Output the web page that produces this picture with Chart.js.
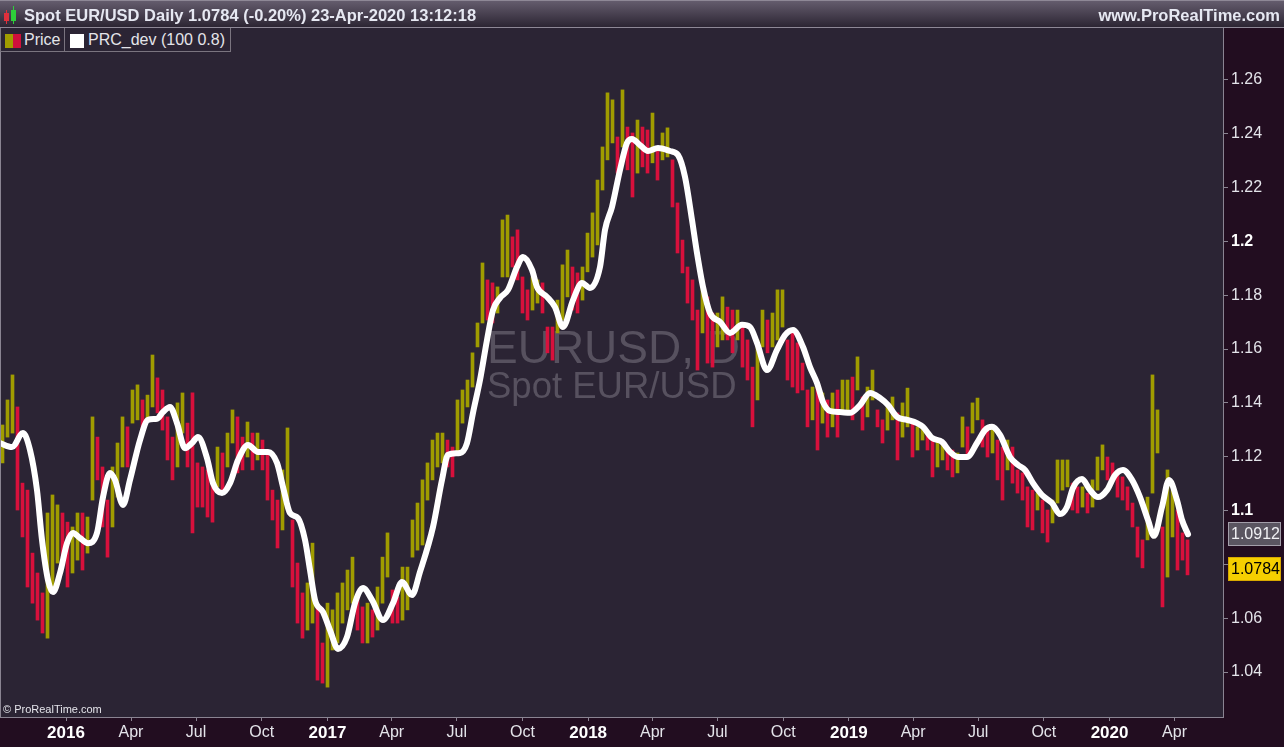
<!DOCTYPE html>
<html>
<head>
<meta charset="utf-8">
<title>Spot EUR/USD Daily</title>
<script src="https://cdn.jsdelivr.net/npm/chart.js@4.4.1/dist/chart.umd.min.js"></script>
<style>
  html, body { margin: 0; padding: 0; background: #220d20; }
  body { width: 1284px; height: 747px; position: relative; overflow: hidden;
         font-family: Arial, "Liberation Sans", sans-serif; }
  #chart { position: absolute; left: 0; top: 0; }
  .topbar { position: absolute; left: 0; top: 0; width: 1284px; height: 26px;
            background: linear-gradient(#645c6d, #2c2533);
            border-top: 1px solid #8e8896; border-bottom: 1px solid #8e8896; }
  .topbar .title { position: absolute; left: 24px; top: 0; line-height: 28px;
                   font-size: 16.5px; font-weight: bold; color: #e6e8f2; }
  .topbar .site { position: absolute; right: 4px; top: 0; line-height: 28px;
                  font-size: 16.5px; font-weight: bold; color: #e6e8f2; }
  .icon { position: absolute; top: 0; }
  .legend { position: absolute; left: 0; top: 28px; height: 23px; width: 229px;
            border: 1px solid #7a747f; border-top: none; background: #2b2434; }
  .legend .sep { position: absolute; left: 63px; top: 0; width: 1px; height: 23px; background: #7a747f; }
  .legend span.txt { position: absolute; top: 0; line-height: 23px; font-size: 16px; color: #e4e4ea; }
  .sw { position: absolute; top: 6px; height: 14px; }
</style>
</head>
<body>
<canvas id="chart" width="1284" height="747"></canvas>

<div class="topbar">
  <div class="icon" style="left:4px;top:12px;width:5px;height:8px;background:#e0303c;"></div>
  <div class="icon" style="left:6px;top:9px;width:1px;height:14px;background:#e0303c;"></div>
  <div class="icon" style="left:11px;top:9px;width:5px;height:11px;background:#2ed03a;"></div>
  <div class="icon" style="left:13px;top:5px;width:1px;height:18px;background:#2ed03a;"></div>
  <div class="title">Spot EUR/USD Daily 1.0784 (-0.20%) 23-Apr-2020 13:12:18</div>
  <div class="site">www.ProRealTime.com</div>
</div>

<div class="legend">
  <div class="sw" style="left:4px;width:8px;background:#a09c00;"></div>
  <div class="sw" style="left:12px;width:8px;background:#d0103c;"></div>
  <span class="txt" style="left:23px;">Price</span>
  <div class="sep"></div>
  <div class="sw" style="left:69px;width:14px;background:#ffffff;"></div>
  <span class="txt" style="left:87px;">PRC_dev (100 0.8)</span>
</div>

<script>
/* EUR/USD daily — weekly high/low ranges + PRC_dev smooth line */

// ---------- data ----------
// x unit: weeks since 1-Jan-2016
const firstBarWeek = -12.7;
const barHigh = [
  1.1318, 1.1411, 1.1504, 1.1385, 1.1102, 1.1076, 1.0842, 1.0768, 1.0694, 1.0991,
  1.1058, 1.1021, 1.0991, 1.0957, 1.0939, 1.0991, 1.0991, 1.0976, 1.1348, 1.1273,
  1.1162, 1.1039, 1.1162, 1.1251, 1.1348, 1.1311, 1.1448, 1.1467, 1.1411, 1.1429,
  1.1578, 1.1493, 1.1448, 1.1348, 1.1273, 1.1400, 1.1437, 1.1325, 1.1437, 1.1177,
  1.1162, 1.1151, 1.1114, 1.1236, 1.1214, 1.1288, 1.1374, 1.1348, 1.1273, 1.1329,
  1.1288, 1.1288, 1.1262, 1.1214, 1.1076, 1.1039, 1.1151, 1.1307, 1.0965, 1.0805,
  1.0694, 1.0731, 1.0879, 1.0642, 1.0508, 1.0656, 1.0631, 1.0694, 1.0731, 1.0779,
  1.0827, 1.0679, 1.0642, 1.0656, 1.0631, 1.0716, 1.0827, 1.0917, 1.0705, 1.0679,
  1.0790, 1.0790, 1.0965, 1.1028, 1.1114, 1.1177, 1.1262, 1.1288, 1.1288, 1.1262,
  1.1236, 1.1411, 1.1448, 1.1485, 1.1586, 1.1697, 1.1920, 1.1857, 1.1846, 1.1831,
  1.2080, 1.2098, 1.2017, 1.2043, 1.1868, 1.1820, 1.1868, 1.1857, 1.1846, 1.1682,
  1.1682, 1.1782, 1.1913, 1.1968, 1.1905, 1.1883, 1.1905, 1.2031, 1.2106, 1.2228,
  1.2351, 1.2552, 1.2526, 1.2388, 1.2563, 1.2425, 1.2403, 1.2451, 1.2425, 1.2414,
  1.2477, 1.2351, 1.2403, 1.2422, 1.2303, 1.2143, 1.2005, 1.1905, 1.1857, 1.1745,
  1.1857, 1.1794, 1.1734, 1.1734, 1.1794, 1.1756, 1.1745, 1.1745, 1.1682, 1.1634,
  1.1533, 1.1634, 1.1745, 1.1708, 1.1734, 1.1820, 1.1820, 1.1634, 1.1660, 1.1623,
  1.1548, 1.1448, 1.1459, 1.1474, 1.1437, 1.1411, 1.1437, 1.1448, 1.1485, 1.1485,
  1.1496, 1.1571, 1.1422, 1.1459, 1.1522, 1.1374, 1.1337, 1.1400, 1.1422, 1.1363,
  1.1400, 1.1455, 1.1337, 1.1311, 1.1311, 1.1288, 1.1273, 1.1262, 1.1251, 1.1225,
  1.1225, 1.1214, 1.1348, 1.1311, 1.1400, 1.1418, 1.1337, 1.1299, 1.1311, 1.1262,
  1.1236, 1.1262, 1.1236, 1.1151, 1.1140, 1.1088, 1.1076, 1.1065, 1.1039, 1.1002,
  1.1039, 1.1188, 1.1188, 1.1188, 1.1102, 1.1088, 1.1088, 1.1065, 1.1114, 1.1199,
  1.1244, 1.1199, 1.1177, 1.1140, 1.1125, 1.1088, 1.1028, 1.0939, 1.0891, 1.1050,
  1.1504, 1.1374, 1.0939, 1.1151, 1.1076, 1.1002, 1.0917, 1.0891
];
const barLow = [
  1.1177, 1.1273, 1.1288, 1.1002, 1.0902, 1.0716, 1.0656, 1.0593, 1.0545, 1.0526,
  1.0716, 1.0805, 1.0827, 1.0716, 1.0768, 1.0816, 1.0779, 1.0842, 1.1039, 1.1114,
  1.0939, 1.0827, 1.0939, 1.1050, 1.1162, 1.1162, 1.1325, 1.1337, 1.1288, 1.1337,
  1.1385, 1.1363, 1.1299, 1.1188, 1.1114, 1.1162, 1.1288, 1.1162, 1.0917, 1.1013,
  1.1013, 1.0976, 1.0957, 1.1088, 1.1076, 1.1162, 1.1251, 1.1140, 1.1151, 1.1199,
  1.1151, 1.1188, 1.1151, 1.1039, 1.0965, 1.0861, 1.0928, 1.1039, 1.0716, 1.0582,
  1.0526, 1.0556, 1.0582, 1.0370, 1.0359, 1.0344, 1.0482, 1.0508, 1.0582, 1.0631,
  1.0656, 1.0556, 1.0508, 1.0508, 1.0530, 1.0556, 1.0656, 1.0753, 1.0582, 1.0582,
  1.0593, 1.0631, 1.0827, 1.0853, 1.0872, 1.1039, 1.1114, 1.1162, 1.1177, 1.1162,
  1.1125, 1.1214, 1.1325, 1.1385, 1.1459, 1.1608, 1.1697, 1.1708, 1.1697, 1.1734,
  1.1868, 1.1868, 1.1905, 1.1857, 1.1734, 1.1708, 1.1745, 1.1771, 1.1734, 1.1586,
  1.1559, 1.1660, 1.1708, 1.1794, 1.1745, 1.1734, 1.1782, 1.1887, 1.1942, 1.1987,
  1.2191, 1.2303, 1.2366, 1.2254, 1.2351, 1.2266, 1.2165, 1.2254, 1.2277, 1.2254,
  1.2292, 1.2228, 1.2303, 1.2314, 1.2128, 1.1957, 1.1883, 1.1771, 1.1708, 1.1522,
  1.1660, 1.1548, 1.1533, 1.1608, 1.1634, 1.1634, 1.1586, 1.1634, 1.1533, 1.1485,
  1.1311, 1.1411, 1.1608, 1.1586, 1.1608, 1.1634, 1.1682, 1.1485, 1.1459, 1.1437,
  1.1448, 1.1311, 1.1337, 1.1225, 1.1325, 1.1273, 1.1311, 1.1273, 1.1363, 1.1363,
  1.1337, 1.1448, 1.1299, 1.1348, 1.1411, 1.1311, 1.1251, 1.1299, 1.1337, 1.1188,
  1.1273, 1.1311, 1.1199, 1.1225, 1.1262, 1.1225, 1.1125, 1.1162, 1.1188, 1.1151,
  1.1125, 1.1140, 1.1236, 1.1199, 1.1288, 1.1337, 1.1236, 1.1199, 1.1214, 1.1114,
  1.1039, 1.1151, 1.1102, 1.1065, 1.1039, 1.0939, 1.0928, 1.1002, 1.0917, 1.0883,
  1.0954, 1.1028, 1.1076, 1.1088, 1.1002, 1.0991, 1.1013, 1.0991, 1.1013, 1.1076,
  1.1151, 1.1114, 1.1125, 1.1050, 1.1039, 1.1002, 1.0939, 1.0827, 1.0787, 1.0891,
  1.1065, 1.1214, 1.0642, 1.0753, 1.0902, 1.0779, 1.0816, 1.0761
];

const devWeek = [
  -13.2, -10.8, -8.6, -7.2, -5.8, -4.8, -3.6, -2.6, -1.2, 0.2,
  1.4, 2.8, 4.4, 6.2, 7.4, 8.8, 9.8, 11.4, 12.8, 14.8,
  16.4, 18.2, 19.4, 20.8, 22.2, 23.8, 25.2, 26.4, 28.2, 29.4,
  31.2, 32.8, 34.4, 36.4, 38.4, 40.4, 42.2, 43.4, 44.8, 46.4,
  47.8, 48.8, 49.8, 51.4, 52.8, 54.4, 56.2, 57.8, 59.4, 61.2,
  63.4, 65.4, 67.2, 69.2, 70.8,
  73.4, 75.2, 76.4, 78.8, 80.2, 81.4, 82.8, 84.2, 85.4, 86.8,
  88.4, 90.2, 91.4, 93.2, 94.2, 96.2, 97.8, 99.4, 101.4, 103.2,
  104.8, 106.8, 107.8, 109.2, 110.8, 112.2, 113.2, 114.8, 116.4, 118.4,
  120.8, 122.4, 123.8, 125.2, 126.2, 127.4, 128.8, 130.8, 132.8, 135.2,
  136.8, 138.2, 140.2, 142.2, 143.8, 145.4, 147.4, 148.8, 150.2, 151.4,
  152.8, 154.8, 156.8, 158.8, 160.8, 162.8, 164.4, 166.2, 168.2, 170.2,
  171.4, 173.2, 175.2, 176.8, 178.4, 180.2, 182.2, 183.8, 185.2, 186.8,
  188.8, 190.4, 191.8, 193.4, 195.2, 197.2, 198.8, 200.2, 201.4, 203.2,
  204.8, 206.4, 208.2, 209.8, 211.4, 213.2, 214.8, 216.4, 217.6, 219.2,
  220.6, 222.2, 223.2, 224.4
];
const devValue = [
  1.1251, 1.1236, 1.1288, 1.1225, 1.1076, 1.0891, 1.0742, 1.0697, 1.0768, 1.0879,
  1.0917, 1.0898, 1.0879, 1.0917, 1.1050, 1.1140, 1.1114, 1.1021, 1.1114, 1.1262,
  1.1337, 1.1341, 1.1366, 1.1385, 1.1325, 1.1232, 1.1251, 1.1273, 1.1195, 1.1102,
  1.1065, 1.1102, 1.1188, 1.1244, 1.1218, 1.1218, 1.1177, 1.1088, 1.0991, 1.0972,
  1.0891, 1.0779, 1.0668, 1.0623, 1.0556, 1.0486, 1.0530, 1.0656, 1.0712, 1.0668,
  1.0593, 1.0656, 1.0735, 1.0686, 1.0772,
  1.0939, 1.1114, 1.1207, 1.1214, 1.1251, 1.1363, 1.1485, 1.1634, 1.1745, 1.1790,
  1.1820, 1.1905, 1.1942, 1.1894, 1.1831, 1.1794, 1.1756, 1.1682, 1.1782, 1.1846,
  1.1827, 1.1905, 1.2043, 1.2128, 1.2266, 1.2366, 1.2381, 1.2358, 1.2336, 1.2347,
  1.2336, 1.2321, 1.2240, 1.2080, 1.1957, 1.1831, 1.1734, 1.1701, 1.1660, 1.1690,
  1.1682, 1.1623, 1.1522, 1.1597, 1.1652, 1.1671, 1.1608, 1.1533, 1.1474, 1.1403,
  1.1370, 1.1366, 1.1363, 1.1392, 1.1437, 1.1418, 1.1392, 1.1348, 1.1337, 1.1325,
  1.1311, 1.1270, 1.1255, 1.1218, 1.1199, 1.1199, 1.1251, 1.1299, 1.1311, 1.1281,
  1.1199, 1.1169, 1.1151, 1.1102, 1.1058, 1.1028, 1.0987, 1.1013, 1.1084, 1.1117,
  1.1076, 1.1050, 1.1076, 1.1132, 1.1151, 1.1114, 1.1050, 1.0965, 1.0906, 1.1013,
  1.1114, 1.1039, 1.0965, 1.0912
];

const lastDev = 1.0912;
const lastClose = 1.0784;

const yTicks = [1.04, 1.06, 1.08, 1.1, 1.12, 1.14, 1.16, 1.18, 1.2, 1.22, 1.24, 1.26];
const yBold = [1.1, 1.2];
const xTickLabels = ["2016", "Apr", "Jul", "Oct", "2017", "Apr", "Jul", "Oct",
                     "2018", "Apr", "Jul", "Oct", "2019", "Apr", "Jul", "Oct", "2020", "Apr"];

// ---------- colors ----------
const color = {
  plot: "#2b2434",
  axisBg: "#220d20",
  axisLine: "#8a8492",
  up: "#a09c00",
  down: "#d8103c",
  line: "#ffffff",
  text: "#e4e4ea",
  watermark: "#57515f",
};
const FONT = 'Arial, "Liberation Sans", sans-serif';

// week positions of quarter starts
const DAY = 86400000;
const origin = Date.UTC(2016, 0, 1);
const xTickWeeks = xTickLabels.map((_, k) =>
  (Date.UTC(2016 + Math.floor(k / 4), (k % 4) * 3, 1) - origin) / (7 * DAY));

const barData = barHigh.map((h, i) => ({ x: firstBarWeek + i, y: [barLow[i], h] }));
const barColors = barHigh.map((h, i) => {
  const mid = (h + barLow[i]) / 2;
  const prev = i ? (barHigh[i - 1] + barLow[i - 1]) / 2 : mid;
  return mid >= prev ? color.up : color.down;
});
const devData = devWeek.map((w, i) => ({ x: w, y: devValue[i] }));

const isBoldY = (c) => !!(c && c.tick && yBold.some((b) => Math.abs(b - c.tick.value) < 1e-9));
const isYear = (c) => !!(c && typeof c.index === "number" && c.index % 4 === 0);

// ---------- plugins ----------
const frame = {
  id: "frame",
  beforeDraw(chart) {
    const { ctx, chartArea: a } = chart;
    ctx.save();
    ctx.fillStyle = color.axisBg;
    ctx.fillRect(0, 0, chart.width, chart.height);
    ctx.fillStyle = color.plot;
    ctx.fillRect(a.left, a.top, a.right - a.left, a.bottom - a.top);
    ctx.restore();
  },
  beforeDatasetsDraw(chart) {
    const { ctx } = chart;
    ctx.save();
    ctx.fillStyle = color.watermark;
    ctx.textBaseline = "alphabetic";
    ctx.font = "46px " + FONT;
    ctx.fillText("EURUSD, D", 487, 363);
    ctx.font = "36.5px " + FONT;
    ctx.fillText("Spot EUR/USD", 487, 398);
    ctx.restore();
  },
  afterDraw(chart) {
    const { ctx, chartArea: a } = chart;
    const y = chart.scales.y;
    ctx.save();
    // left frame line
    ctx.fillStyle = color.axisLine;
    ctx.fillRect(0, a.top, 1, a.bottom - a.top);
    // copyright
    ctx.fillStyle = color.text;
    ctx.font = "11px " + FONT;
    ctx.textBaseline = "alphabetic";
    ctx.fillText("\u00A9 ProRealTime.com", 3, 713);
    // value boxes
    const box = (v, bg, border, fg) => {
      const py = Math.round(y.getPixelForValue(v));
      ctx.fillStyle = bg;
      ctx.fillRect(1228, py - 12, 53, 24);
      ctx.strokeStyle = border;
      ctx.lineWidth = 1;
      ctx.strokeRect(1228.5, py - 11.5, 52, 23);
      ctx.fillStyle = fg;
      ctx.font = "16px " + FONT;
      ctx.textBaseline = "middle";
      ctx.fillText(v.toFixed(4), 1231, py + 1);
    };
    box(lastDev, "#5a5561", "#a39eaa", "#f0f0f4");
    box(lastClose, "#f5cf00", "#d8a800", "#000000");
    ctx.restore();
  },
};

// ---------- chart ----------
new Chart(document.getElementById("chart"), {
  type: "bar",
  data: {
    datasets: [
      {
        type: "line",
        label: "PRC_dev (100 0.8)",
        data: devData,
        borderColor: color.line,
        borderWidth: 6,
        borderCapStyle: "round",
        borderJoinStyle: "round",
        cubicInterpolationMode: "monotone",
        pointRadius: 0,
        fill: false,
        order: 0,
      },
      {
        type: "bar",
        label: "Price",
        data: barData,
        backgroundColor: barColors,
        barThickness: 3,
        grouped: false,
        order: 1,
      },
    ],
  },
  options: {
    responsive: false,
    animation: false,
    layout: { padding: { top: 28, left: 0, right: 0, bottom: 0 } },
    plugins: { legend: { display: false }, tooltip: { enabled: false } },
    scales: {
      x: {
        type: "linear",
        min: -13.2,
        max: 231.4,
        offset: false,
        afterBuildTicks: (s) => { s.ticks = xTickWeeks.map((v) => ({ value: v })); },
        afterFit: (s) => { s.height = 30; },
        grid: { drawOnChartArea: false, drawTicks: true, tickLength: 4, color: color.axisLine, offset: false },
        border: { display: true, color: color.axisLine },
        ticks: {
          autoSkip: false,
          maxRotation: 0,
          padding: 2,
          color: (c) => (isYear(c) ? "#ffffff" : color.text),
          font: (c) => ({ family: FONT, size: isYear(c) ? 17 : 16, weight: isYear(c) ? "bold" : "normal" }),
          callback: (v, i) => xTickLabels[i],
        },
      },
      y: {
        position: "right",
        min: 1.0233,
        max: 1.2793,
        afterBuildTicks: (s) => { s.ticks = yTicks.map((v) => ({ value: v })); },
        afterFit: (s) => { s.width = 61; },
        grid: { drawOnChartArea: false, drawTicks: true, tickLength: 5, color: color.axisLine },
        border: { display: true, color: color.axisLine },
        ticks: {
          padding: 3,
          color: (c) => (isBoldY(c) ? "#ffffff" : color.text),
          font: (c) => ({ family: FONT, size: 16, weight: isBoldY(c) ? "bold" : "normal" }),
          callback: (v) => String(Number(v.toFixed(2))),
        },
      },
    },
  },
  plugins: [frame],
});
</script>
</body>
</html>
